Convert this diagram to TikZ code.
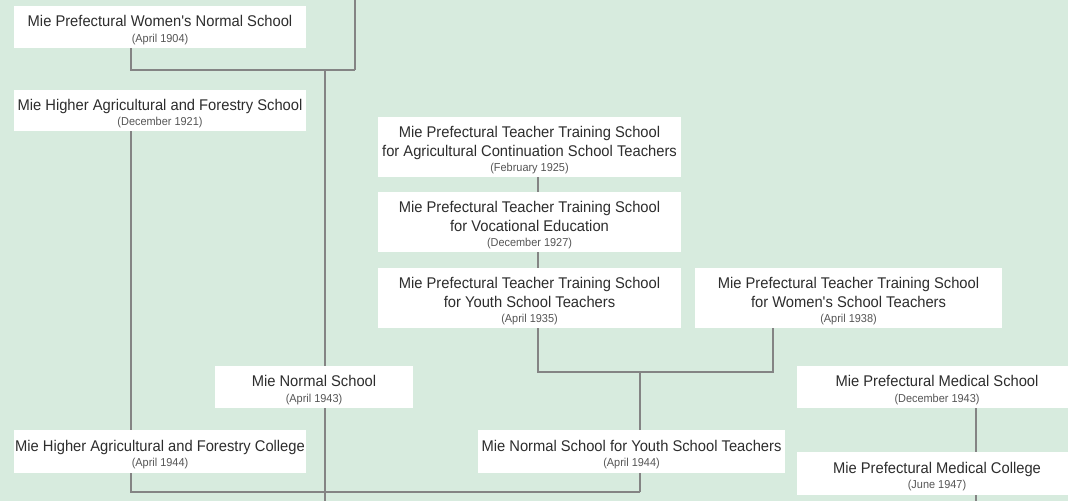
\documentclass[tikz,border=0pt]{standalone}
\usepackage{fontspec}
\setmainfont{Liberation Sans}[FakeStretch=0.95]
\usepackage{tikz}
\usetikzlibrary{calc}
\usepackage{color}
\definecolor{bggreen}{RGB}{215,235,222}
\definecolor{linegray}{RGB}{132,132,132}
\definecolor{textgray}{RGB}{45,45,45}
\definecolor{dategray}{RGB}{85,85,85}
% first line a bit lower, date line under the title
\newcommand{\lift}{\rule{0pt}{17pt}}
\newcommand{\when}[1]{\\[-3.5pt]{\fontsize{11.5}{13}\selectfont\color{dategray}#1}}
\newcommand{\apos}{\textquotesingle}

\begin{document}
\begin{tikzpicture}[x=1pt,y=-1pt,
    school/.style={fill=white,inner sep=0pt,align=center,text=textgray,
      font=\fontsize{15.5}{19}\selectfont},
    link/.style={draw=linegray,line width=2pt}]
          % background
          \fill[bggreen] (0,0) rectangle (1068,501);
          \useasboundingbox (0,0) rectangle (1068,501);

          % women's normal school
          \node (wns) at (160,27) [school,minimum width=292,minimum height=42]
            {\lift Mie Prefectural Women\apos s Normal School\when{(April 1904)}};

          % agri school
          \node (hafs) at (160,110.5) [school,minimum width=292,minimum height=41]
            {\lift Mie Higher Agricultural and Forestry School\when{(December 1921)}};

          % teacher training schools
          \node (ttac) at (529.5,147) [school,minimum width=303,minimum height=60]
            {\lift Mie Prefectural Teacher Training School\\for Agricultural Continuation School Teachers\when{(February 1925)}};
          \node (ttve) at (529.5,222) [school,minimum width=303,minimum height=60]
            {\lift Mie Prefectural Teacher Training School\\for Vocational Education\when{(December 1927)}};
          \node (ttys) at (529.5,298) [school,minimum width=303,minimum height=60]
            {\lift Mie Prefectural Teacher Training School\\for Youth School Teachers\when{(April 1935)}};
          \node (ttws) at (848.5,298) [school,minimum width=307,minimum height=60]
            {\lift Mie Prefectural Teacher Training School\\for Women\apos s School Teachers\when{(April 1938)}};

          % normal school
          \node (mns) at (314,387) [school,minimum width=198,minimum height=42]
            {\lift Mie Normal School\when{(April 1943)}};

          % medical
          \node (pms) at (937,387) [school,minimum width=280,minimum height=42]
            {\lift Mie Prefectural Medical School\when{(December 1943)}};
          \node (pmc) at (937,473.5) [school,minimum width=280,minimum height=43]
            {\lift Mie Prefectural Medical College\when{(June 1947)}};

          % 1944
          \node (hafc) at (160,451.5) [school,minimum width=292,minimum height=43]
            {\lift Mie Higher Agricultural and Forestry College\when{(April 1944)}};
          \node (nsys) at (631.5,451.5) [school,minimum width=307,minimum height=43]
            {\lift Mie Normal School for Youth School Teachers\when{(April 1944)}};

          % joints
          \coordinate (top) at (355,0);
          \coordinate (j1) at (355,70);
          \coordinate (j2) at (325,70);
          \coordinate (bot1) at (325,501);
          \coordinate (j3) at (640,372);
          \coordinate (j4) at (640,492);
          \coordinate (bot2) at (976,501);

          \draw[link] (top) -- (j1);
          \draw[link] ([xshift=-29]wns.south) |- (j1);
          \draw[link] (j2) -- (mns.north -| j2);
          \draw[link] (mns.south -| j2) -- (bot1);

          \draw[link] ([xshift=-29]hafs.south) -- ([xshift=-29]hafc.north);
          \draw[link] ([xshift=-29]hafc.south) |- (j4);
          \draw[link] (nsys.south -| j4) -- (j4);

          \draw[link] ([xshift=8.5]ttac.south) -- ([xshift=8.5]ttve.north);
          \draw[link] ([xshift=8.5]ttve.south) -- ([xshift=8.5]ttys.north);
          \draw[link] ([xshift=8.5]ttys.south) |- (j3);
          \draw[link] ([xshift=-75.5]ttws.south) |- (j3);
          \draw[link] (j3) -- (nsys.north -| j3);

          \draw[link] ([xshift=39]pms.south) -- ([xshift=39]pmc.north);
          \draw[link] ([xshift=39]pmc.south) -- (bot2);
\end{tikzpicture}
\end{document}
